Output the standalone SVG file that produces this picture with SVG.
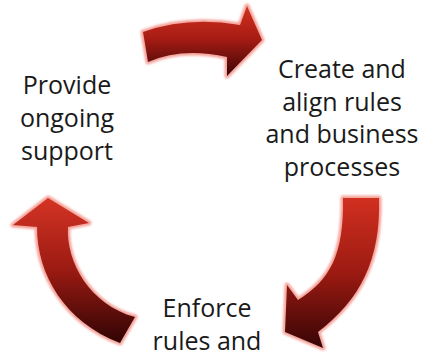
<svg xmlns="http://www.w3.org/2000/svg" width="424" height="356" viewBox="0 0 424 356">
<defs>
<linearGradient id="gTop" x1="0" y1="0" x2="0" y2="1">
<stop offset="0" stop-color="#d0321f"/>
<stop offset="0.45" stop-color="#a91c14"/>
<stop offset="1" stop-color="#3c0606"/>
</linearGradient>
<linearGradient id="gRight" x1="0" y1="0" x2="0" y2="1">
<stop offset="0" stop-color="#d0301f"/>
<stop offset="0.5" stop-color="#9c1a12"/>
<stop offset="1" stop-color="#360505"/>
</linearGradient>
<linearGradient id="gLeft" x1="0" y1="0" x2="0" y2="1">
<stop offset="0" stop-color="#d43424"/>
<stop offset="0.5" stop-color="#9a1a12"/>
<stop offset="1" stop-color="#300404"/>
</linearGradient>
<filter id="glow" x="-20%" y="-20%" width="140%" height="140%">
<feGaussianBlur stdDeviation="1"/>
</filter>
</defs>
<style>
.lbl{font-family:"Open Sans","Liberation Sans",sans-serif;font-size:25px;fill:#1a1a1a;text-anchor:middle}
.halo{fill:none;stroke:#f4a49c;stroke-width:5;stroke-linejoin:round;filter:url(#glow)}
</style>
<g id="connectors">
<g id="arrow-top">
<path class="halo" d="M143,32 Q188,16 240,25 L247,6 L262,40 L227,76 L227,57 Q182,47 148,62 Z"/>
<path fill="url(#gTop)" d="M143,32 Q188,16 240,25 L247,6 L262,40 L227,76 L227,57 Q182,47 148,62 Z"/>
</g>
<g id="arrow-right">
<path class="halo" d="M343,198 L379,198 C381,260 360,300 318,332 L323,348 L285,332 L287,285 L298,300 C330,280 344,255 343,198 Z"/>
<path fill="url(#gRight)" d="M343,198 L379,198 C381,260 360,300 318,332 L323,348 L285,332 L287,285 L298,300 C330,280 344,255 343,198 Z"/>
</g>
<g id="arrow-left">
<path class="halo" d="M48,198 L89,223 L68,227 C66,262 90,305 135,317 L120,343 C65,322 37,275 37,227 L13,225 Z"/>
<path fill="url(#gLeft)" d="M48,198 L89,223 L68,227 C66,262 90,305 135,317 L120,343 C65,322 37,275 37,227 L13,225 Z"/>
</g>
</g>
<g id="node-support">
<text class="lbl" x="67" y="94">Provide</text>
<text class="lbl" x="67" y="127">ongoing</text>
<text class="lbl" x="67" y="160">support</text>
</g>
<g id="node-create">
<text class="lbl" x="342" y="78">Create and</text>
<text class="lbl" x="342" y="111">align rules</text>
<text class="lbl" x="342" y="143">and business</text>
<text class="lbl" x="342" y="176">processes</text>
</g>
<g id="node-enforce">
<text class="lbl" x="207" y="317">Enforce</text>
<text class="lbl" x="207" y="350">rules and</text>
</g>
</svg>
